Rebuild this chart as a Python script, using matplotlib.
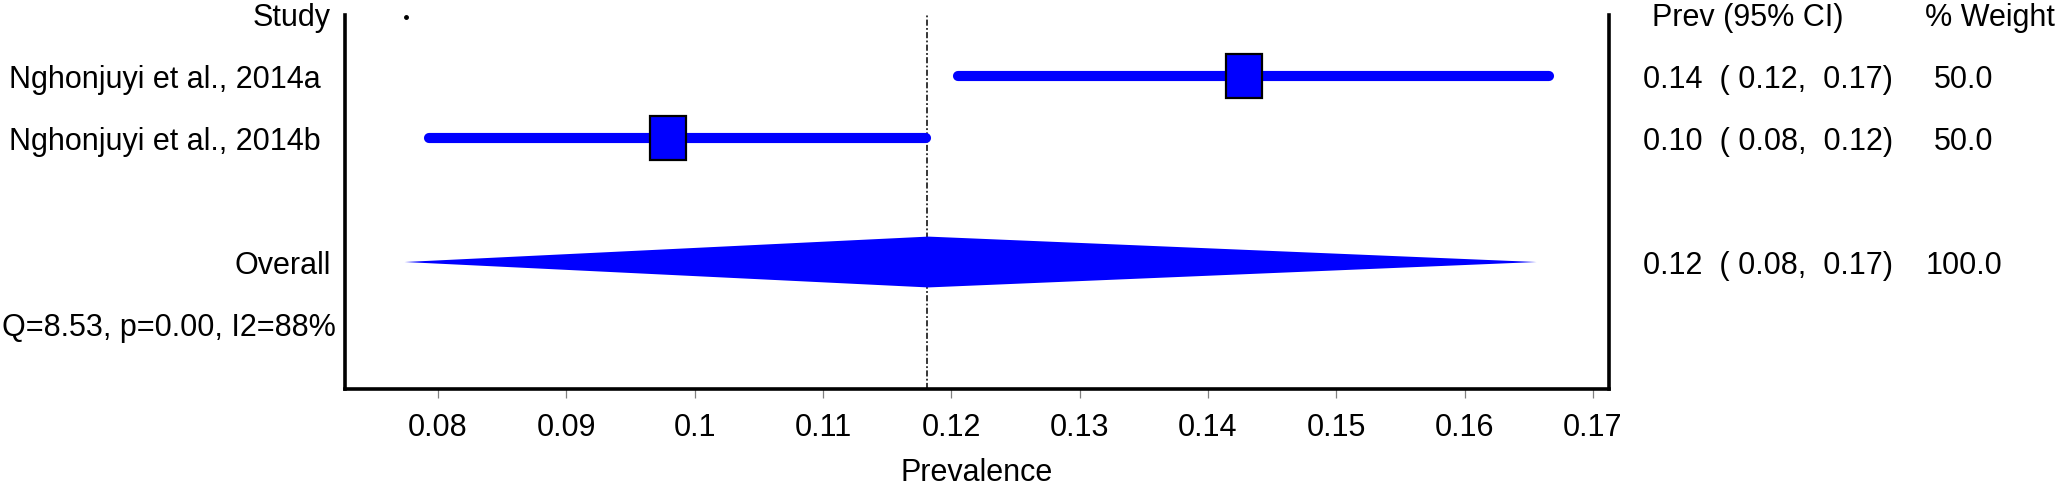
"""Forest plot of pooled prevalence (two studies + overall)."""

import matplotlib
matplotlib.use("Agg")
import matplotlib.pyplot as plt
from matplotlib import font_manager
from matplotlib.patches import Polygon, Rectangle
from matplotlib.transforms import blended_transform_factory

studies = ["Nghonjuyi et al., 2014a", "Nghonjuyi et al., 2014b"]
study_est = [0.1428, 0.0979]
study_lo = [0.1205, 0.0793]
study_hi = [0.1666, 0.1180]
study_ci_text = ["0.14  ( 0.12,  0.17)", "0.10  ( 0.08,  0.12)"]
study_weight = ["50.0", "50.0"]

overall_est = 0.1182
overall_lo = 0.0774
overall_hi = 0.1656
overall_ci_text = "0.12  ( 0.08,  0.17)"
overall_weight = "100.0"

heterogeneity = "Q=8.53, p=0.00, I2=88%"
pooled_line = 0.1181
stray_mark = (0.0775, 0.05)

x_ticks = [0.08, 0.09, 0.10, 0.11, 0.12, 0.13, 0.14, 0.15, 0.16, 0.17]
x_tick_labels = ["0.08", "0.09", "0.1", "0.11", "0.12", "0.13", "0.14", "0.15", "0.16", "0.17"]

BLUE = "#0000FF"
W, H = 2056, 484

installed = {f.name for f in font_manager.fontManager.ttflist}
if "Liberation Sans Narrow" in installed:
    plt.rcParams["font.family"] = ["Liberation Sans Narrow", "DejaVu Sans"]
    fs = 26
else:
    plt.rcParams["font.family"] = ["Liberation Sans", "DejaVu Sans"]
    fs = 22

fig = plt.figure(figsize=(W / 100, H / 100), dpi=100)
ax = fig.add_axes([345 / W, 1 - 389 / H, (1609 - 345) / W, (389 - 15) / H])
ax.set_xlim(0.07275, 0.17125)
ax.set_ylim(6.048, 0.016)

study_rows = [1, 2]
overall_row = 4
het_row = 5

ax.axvline(pooled_line, color="black", lw=1.1, linestyle=(0, (4, 1.5, 1.2, 1.5)), zorder=1)

box_w, box_h = 0.0028, 0.72
for row, est, lo, hi in zip(study_rows, study_est, study_lo, study_hi):
    ax.plot([lo, hi], [row, row], color=BLUE, lw=7.3, solid_capstyle="round", zorder=2)
    ax.add_patch(Rectangle((est - box_w / 2, row - box_h / 2), box_w, box_h,
                           facecolor=BLUE, edgecolor="black", lw=1.6, zorder=3))

half = 0.41
ax.add_patch(Polygon([(overall_lo, overall_row), (overall_est, overall_row - half),
                      (overall_hi, overall_row), (overall_est, overall_row + half)],
                     closed=True, facecolor=BLUE, edgecolor="none", zorder=2))

ax.plot(*stray_mark, marker="o", ms=2.5, color="black", clip_on=False)

for side in ["left", "right", "bottom"]:
    ax.spines[side].set_linewidth(2.6)
ax.spines["top"].set_visible(False)
ax.set_yticks([])
ax.set_xticks(x_ticks)
ax.set_xticklabels(x_tick_labels)
ax.tick_params(axis="x", length=6.5, width=0.9, color="#808080", pad=10.5, labelsize=fs)

tr = blended_transform_factory(fig.transFigure, ax.transData)
base = 0.19  # baseline offset below row centre


def put(x_px, row, s, ha):
    ax.text(x_px / W, row + base, s, transform=tr, ha=ha, va="baseline",
            fontsize=fs, clip_on=False)


put(331, 0, "Study", "right")
put(1652, 0, "Prev (95% CI)", "left")
put(1925, 0, "% Weight", "left")
for row, name, ci, wt in zip(study_rows, studies, study_ci_text, study_weight):
    put(321, row, name, "right")
    put(1643, row, ci, "left")
    put(1964, row, wt, "center")
put(331, overall_row, "Overall", "right")
put(1643, overall_row, overall_ci_text, "left")
put(1964, overall_row, overall_weight, "center")
put(2, het_row, heterogeneity, "left")

fig.text(977 / W, 1 - 481 / H, "Prevalence", ha="center", va="baseline", fontsize=fs)

fig.savefig("out.png", dpi=100)
